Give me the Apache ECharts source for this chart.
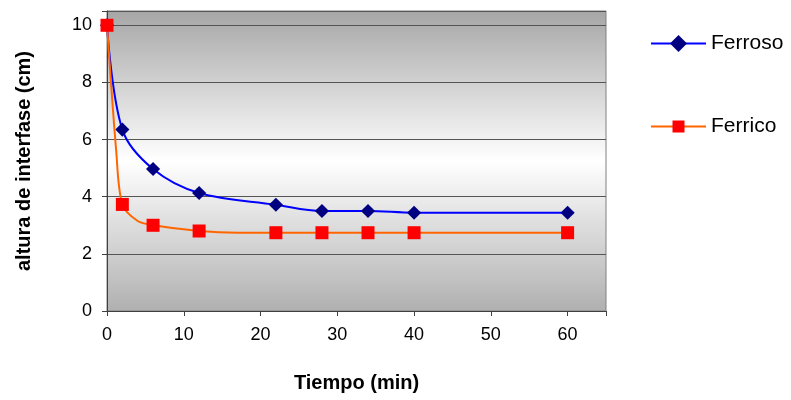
<!DOCTYPE html>
<html>
<head>
<meta charset="utf-8">
<script src="https://cdn.jsdelivr.net/npm/echarts@6/dist/echarts.min.js"></script>
<style>
  html, body { margin: 0; padding: 0; background: #fff; }
  #main { width: 791px; height: 400px; }
</style>
</head>
<body>
<div id="main"></div>
<script>
// datos
var tiempo = [0, 2, 6, 12, 22, 28, 34, 40, 60];
var ferroso = [10, 6.35, 4.97, 4.13, 3.72, 3.5, 3.5, 3.44, 3.44];
var ferrico = [10, 3.73, 3.0, 2.8, 2.74, 2.74, 2.74, 2.74, 2.74];
// puntos de la curva naranja sin marcador (quiebres visibles)
var ferricoQuiebreX = [1.2, 4, 17];
var ferricoQuiebreY = [5.6, 3.15, 2.74];
var yTicks = [0, 2, 4, 6, 8, 10];

var ferrosoData = tiempo.map(function (t, i) { return [t, ferroso[i]]; });
var ferricoData = tiempo.map(function (t, i) { return [t, ferrico[i]]; });
ferricoQuiebreX.forEach(function (x, i) {
    ferricoData.push({ value: [x, ferricoQuiebreY[i]], symbol: 'none' });
});
ferricoData.sort(function (a, b) {
    var xa = a.value ? a.value[0] : a[0];
    var xb = b.value ? b.value[0] : b[0];
    return xa - xb;
});

var myChart = echarts.init(document.getElementById('main'));
var font = 'Liberation Sans, Arial, sans-serif';

myChart.setOption({
    animation: false,
    textStyle: { fontFamily: font },
    grid: {
        left: 107, right: 185, top: 11, bottom: 89,
        show: true,
        borderColor: '#808080',
        borderWidth: 1,
        backgroundColor: new echarts.graphic.LinearGradient(0, 0, 0, 1, [
            { offset: 0, color: '#a6a6a6' },
            { offset: 0.5, color: '#ffffff' },
            { offset: 1, color: '#b0b0b0' }
        ])
    },
    legend: {
        orient: 'vertical',
        left: 645, top: 28,
        itemWidth: 55, itemHeight: 15,
        itemGap: 62,
        textStyle: { fontSize: 21, color: '#000', fontFamily: font },
        data: ['Ferroso', 'Ferrico']
    },
    xAxis: {
        type: 'value',
        min: 0, max: 65, interval: 10,
        name: 'Tiempo (min)',
        nameLocation: 'middle',
        nameGap: 62,
        nameTextStyle: { fontSize: 20, fontWeight: 'bold', color: '#000' },
        axisLine: { show: true, lineStyle: { color: '#404040', width: 1 } },
        axisTick: { show: true, length: 5, lineStyle: { color: '#404040' } },
        axisLabel: {
            fontSize: 18, color: '#000', margin: 15,
            formatter: function (v) { return v > 60 ? '' : v; }
        },
        splitLine: { show: false }
    },
    yAxis: {
        type: 'value',
        min: 0, max: 10.5, interval: 2,
        name: 'altura de interfase (cm)',
        nameLocation: 'middle',
        nameGap: 73,
        nameTextStyle: { fontSize: 20, fontWeight: 'bold', color: '#000' },
        axisLine: { show: true, lineStyle: { color: '#404040', width: 1 } },
        axisTick: { show: true, length: 5, lineStyle: { color: '#404040' } },
        axisLabel: {
            fontSize: 18, color: '#000', margin: 15,
            formatter: function (v) { return yTicks.indexOf(v) >= 0 ? v : ''; }
        },
        splitLine: { show: true, lineStyle: { color: '#555555', width: 1 } }
    },
    series: [
        {
            name: 'Ferroso',
            type: 'line',
            data: ferrosoData,
            smooth: 0.35,
            symbol: 'rect',
            symbolSize: 10,
            symbolRotate: 45,
            lineStyle: { color: '#0000ff', width: 2 },
            itemStyle: { color: '#000080' },
            z: 3
        },
        {
            name: 'Ferrico',
            type: 'line',
            data: ferricoData,
            smooth: 0.3,
            symbol: 'rect',
            symbolSize: 13,
            lineStyle: { color: '#ff6600', width: 2 },
            itemStyle: { color: '#ff0000' },
            z: 4
        }
    ]
});
</script>
</body>
</html>
